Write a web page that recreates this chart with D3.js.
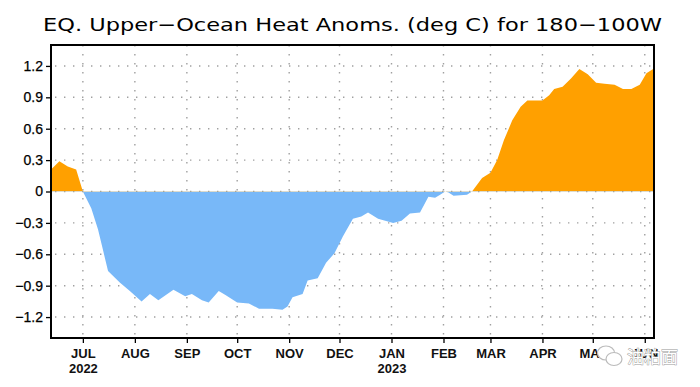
<!DOCTYPE html>
<html>
<head>
<meta charset="utf-8">
<script src="https://cdn.jsdelivr.net/npm/d3@7/dist/d3.min.js"></script>
<style>
  html, body { margin: 0; padding: 0; background: #fff; }
  svg { display: block; }
</style>
</head>
<body>
<svg id="chart" width="700" height="387"></svg>
<script>
// ---- data ----
const titleText = "EQ. Upper\u2212Ocean Heat Anoms. (deg C) for 180\u2212100W";
const dates = [
  "2022-06-12","2022-06-17","2022-06-22","2022-06-27","2022-07-01","2022-07-06","2022-07-10",
  "2022-07-13","2022-07-16","2022-07-23","2022-07-29","2022-08-05","2022-08-10","2022-08-15",
  "2022-08-24","2022-08-31","2022-09-04","2022-09-10","2022-09-14","2022-09-20","2022-09-24",
  "2022-10-01","2022-10-08","2022-10-14","2022-10-22","2022-10-28","2022-10-31","2022-11-03",
  "2022-11-09","2022-11-12","2022-11-18","2022-11-23","2022-11-28","2022-12-03","2022-12-09",
  "2022-12-14","2022-12-18","2022-12-24","2023-01-02","2023-01-07","2023-01-12","2023-01-18",
  "2023-01-23","2023-01-27","2023-01-30","2023-02-02","2023-02-04","2023-02-07","2023-02-15",
  "2023-02-18","2023-02-24","2023-03-01","2023-03-05","2023-03-09","2023-03-14","2023-03-19",
  "2023-03-23","2023-04-01","2023-04-05","2023-04-08","2023-04-13","2023-04-18","2023-04-23",
  "2023-04-28","2023-05-03","2023-05-08","2023-05-14","2023-05-19","2023-05-24","2023-05-29",
  "2023-06-02","2023-06-06"
];
const values = [
  0.21, 0.29, 0.24, 0.21, 0.00, -0.16, -0.36,
  -0.56, -0.76, -0.87, -0.95, -1.05, -0.98, -1.04,
  -0.94, -1.00, -0.98, -1.04, -1.06, -0.95, -0.99,
  -1.06, -1.07, -1.12, -1.12, -1.13, -1.10, -1.01,
  -0.98, -0.85, -0.83, -0.68, -0.59, -0.43, -0.26,
  -0.24, -0.20, -0.26, -0.30, -0.28, -0.21, -0.20,
  -0.05, -0.06, -0.03, 0.00, -0.01, -0.04, -0.03,
  0.00, 0.13, 0.18, 0.30, 0.49, 0.68, 0.81,
  0.87, 0.87, 0.92, 0.98, 1.00, 1.08, 1.17,
  1.12, 1.04, 1.03, 1.02, 0.98, 0.98, 1.02,
  1.13, 1.17
];
const yTicks = [-1.2, -0.9, -0.6, -0.3, 0, 0.3, 0.6, 0.9, 1.2];
const yTickLabels = ["\u22121.2", "\u22120.9", "\u22120.6", "\u22120.3", "0", "0.3", "0.6", "0.9", "1.2"];
const monthTicks = ["2022-07-01","2022-08-01","2022-09-01","2022-10-01","2022-11-01","2022-12-01",
                    "2023-01-01","2023-02-01","2023-03-01","2023-04-01","2023-05-01","2023-06-01"];
const monthLabels = ["JUL","AUG","SEP","OCT","NOV","DEC","JAN","FEB","MAR","APR","MAY","JUN"];
const yearLabels = ["2022","","","","","","2023","","","","",""];
const watermarkText = "\u6cb9\u7c95\u9762";

// ---- layout ----
const svg = d3.select("#chart");
const L = 51, R = 654, T = 45, B = 338;
const parse = d3.utcParse("%Y-%m-%d");
const data = dates.map((d, i) => ({ date: parse(d), v: values[i] }));

const x = d3.scaleUtc()
  .domain([new Date(Date.UTC(2022, 5, 12)), new Date(Date.UTC(2023, 5, 6, 12))])
  .range([L, R]);
const y = d3.scaleLinear().domain([-1.4, 1.4]).range([B, T]);

// title
svg.append("text")
  .attr("x", 43).attr("y", 31)
  .attr("textLength", 619).attr("lengthAdjust", "spacingAndGlyphs")
  .attr("font-family", "'DejaVu Sans', 'Liberation Sans', Arial, sans-serif")
  .attr("font-size", 18)
  .attr("fill", "#000")
  .text(titleText);

// grid
const grid = svg.append("g").attr("stroke", "#a0a0a0").attr("stroke-width", 1.4)
  .attr("stroke-dasharray", "1.4,7.6");
grid.selectAll("line.h").data(yTicks).join("line")
  .attr("x1", L + 4).attr("x2", R)
  .attr("y1", d => y(d)).attr("y2", d => y(d));
grid.selectAll("line.v").data(monthTicks).join("line")
  .attr("x1", d => x(parse(d))).attr("x2", d => x(parse(d)))
  .attr("y1", T).attr("y2", B);

// clip paths for positive / negative fill
const defs = svg.append("defs");
defs.append("clipPath").attr("id", "pos").append("rect")
  .attr("x", L).attr("y", T).attr("width", R - L).attr("height", y(0) - T);
defs.append("clipPath").attr("id", "neg").append("rect")
  .attr("x", L).attr("y", y(0)).attr("width", R - L).attr("height", B - y(0));

const area = d3.area()
  .x(d => x(d.date))
  .y0(y(0))
  .y1(d => y(d.v));

svg.append("path").datum(data)
  .attr("clip-path", "url(#pos)")
  .attr("fill", "#ffa000")
  .attr("d", area);
svg.append("path").datum(data)
  .attr("clip-path", "url(#neg)")
  .attr("fill", "#78b8f8")
  .attr("d", area);

// axes
const yAxis = d3.axisLeft(y).tickValues(yTicks)
  .tickFormat((d, i) => yTickLabels[i]).tickSize(5).tickPadding(3);
const gy = svg.append("g").attr("transform", `translate(${L},0)`).call(yAxis);
gy.select(".domain").remove();
gy.selectAll(".tick line").attr("stroke", "#000").attr("stroke-width", 1.3);
gy.selectAll(".tick text")
  .attr("font-family", "'Liberation Sans', Arial, sans-serif")
  .attr("font-size", 14).attr("fill", "#000")
  .attr("stroke", "#000").attr("stroke-width", 0.25);

const labelFont = "'Liberation Sans Narrow', 'Liberation Sans', Arial, sans-serif";
const xAxis = d3.axisBottom(x).tickValues(monthTicks.map(parse))
  .tickFormat((d, i) => monthLabels[i]).tickSize(5).tickPadding(5);
const gx = svg.append("g").attr("transform", `translate(0,${B})`).call(xAxis);
gx.select(".domain").remove();
gx.selectAll(".tick line").attr("stroke", "#000").attr("stroke-width", 1.3);
gx.selectAll(".tick text")
  .attr("dy", null).attr("y", 19.5)
  .attr("font-family", labelFont)
  .attr("font-stretch", "condensed")
  .attr("font-weight", "bold")
  .attr("font-size", 13).attr("fill", "#111");
gx.selectAll(".tick").append("text")
  .attr("y", 34.5).attr("text-anchor", "middle")
  .attr("font-family", labelFont)
  .attr("font-stretch", "condensed")
  .attr("font-weight", "bold")
  .attr("font-size", 13).attr("fill", "#111")
  .text((d, i) => yearLabels[i]);

// frame
svg.append("rect")
  .attr("x", L).attr("y", T).attr("width", R - L).attr("height", B - T)
  .attr("fill", "none").attr("stroke", "#000").attr("stroke-width", 2);

// watermark (overlays the MAY / JUN labels as in the reference)
const wm = svg.append("g");
wm.append("ellipse").attr("cx", 606).attr("cy", 353).attr("rx", 8.5).attr("ry", 7)
  .attr("fill", "#fff").attr("stroke", "#bbb").attr("stroke-width", 1.2);
wm.append("ellipse").attr("cx", 614).attr("cy", 359).attr("rx", 8).attr("ry", 6.5)
  .attr("fill", "#fff").attr("stroke", "#bbb").attr("stroke-width", 1.2);
wm.append("text")
  .attr("x", 627).attr("y", 363)
  .attr("font-family", "'Noto Sans CJK SC', sans-serif")
  .attr("font-size", 17)
  .attr("fill", "#fff").attr("stroke", "#999").attr("stroke-width", 0.9)
  .attr("paint-order", "stroke")
  .text(watermarkText);
</script>
</body>
</html>
